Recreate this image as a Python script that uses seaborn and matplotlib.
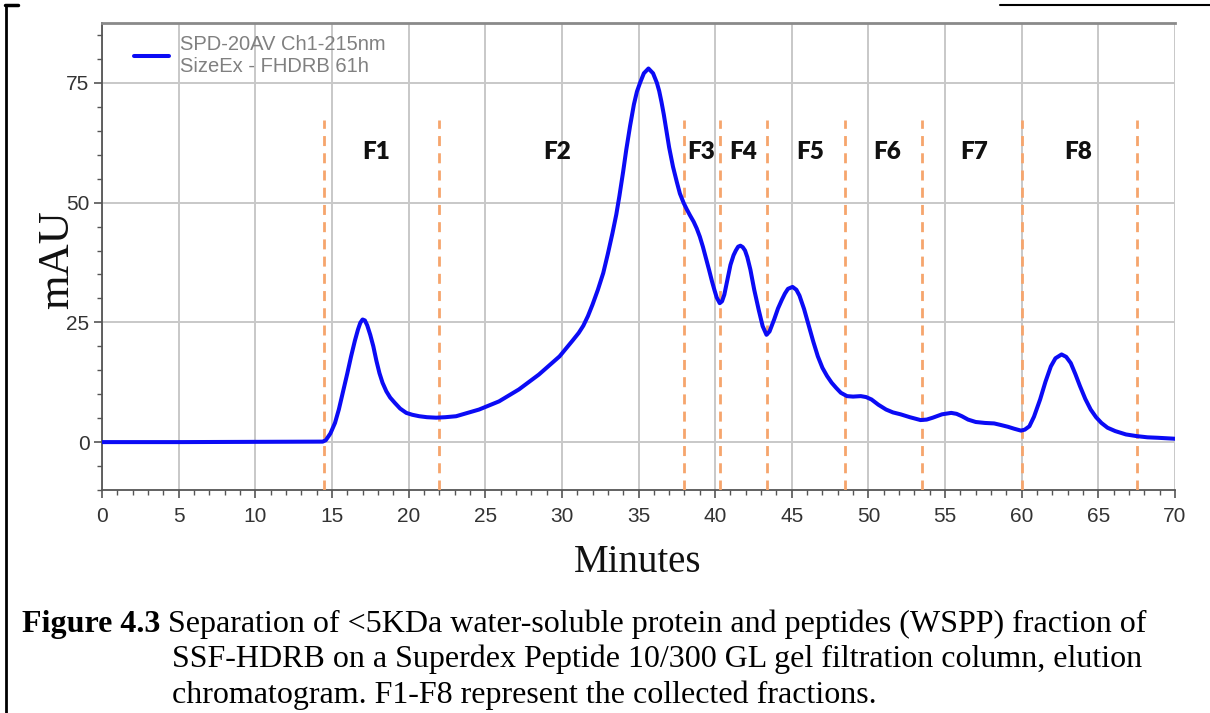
import matplotlib
matplotlib.use("Agg")
import numpy as np
import pandas as pd
import seaborn as sns
import matplotlib.pyplot as plt
from matplotlib.ticker import MultipleLocator
from matplotlib.lines import Line2D

# ---------------- data ----------------
minutes = [0, 5, 10, 11, 14.4, 14.6, 14.9, 15.2, 15.45, 15.7, 16.0, 16.25, 16.5, 16.7,
           16.85, 17.0, 17.15, 17.3, 17.5, 17.7, 17.9, 18.1, 18.3, 18.55, 18.8, 19.1,
           19.45, 19.85, 20.25, 20.7, 21.2, 21.8, 22.4, 23.1, 24.6, 25.9, 27.2, 28.5,
           29.85, 30.7, 31.1, 31.4, 31.7, 32.0, 32.35, 32.7, 33.0, 33.3, 33.55, 33.75,
           34.0, 34.2, 34.45,
           34.7, 34.9, 35.1, 35.35, 35.65, 35.95, 36.2, 36.35, 36.5, 36.65, 36.8, 37.0,
           37.25, 37.5, 37.7, 37.95, 38.15, 38.35, 38.6, 38.8, 39.0, 39.2, 39.4, 39.6,
           39.8, 39.95, 40.1, 40.3, 40.45, 40.6, 40.8, 41.0, 41.2, 41.35, 41.5, 41.65,
           41.8, 41.95, 42.1, 42.3, 42.55, 42.85, 43.1, 43.35, 43.55, 43.85, 44.1,
           44.35, 44.55, 44.75, 45.05, 45.3, 45.5, 45.8, 46.1, 46.4, 46.7, 47.0, 47.3,
           47.6, 47.9, 48.2, 48.6, 49.0, 49.5, 49.85, 50.2, 50.65, 51.15, 51.6, 52.1,
           52.7, 53.4, 53.8, 54.2, 54.8, 55.4, 55.75, 56.1, 56.5, 57.0, 57.6, 58.2,
           58.6, 59.1, 59.5, 59.95, 60.2, 60.5, 60.8, 61.2, 61.55, 61.9, 62.2, 62.6,
           62.9, 63.2, 63.5, 63.8, 64.15, 64.5, 64.85, 65.2, 65.6, 66.1, 66.8, 67.5,
           68.2, 68.9, 70.0]
mau = [0, 0, 0.05, 0.05, 0.1, 0.4, 1.8, 4.0, 6.8, 10.2, 14.3, 17.9, 21.2, 23.5,
       24.9, 25.6, 25.4, 24.4, 22.4, 20.0, 17.0, 14.4, 12.4, 10.6, 9.3, 8.2,
       7.0, 6.1, 5.7, 5.4, 5.2, 5.1, 5.2, 5.4, 6.8, 8.5, 11.0, 14.1,
       17.9, 21.2, 22.8, 24.3, 26.3, 28.7, 31.8, 35.3, 39.3, 43.6, 47.5, 51.3,
       56.5, 61.0, 66.0,
       70.5, 73.2, 75.0, 77.0, 78.0, 77.0, 75.0, 73.3, 71.0, 68.4, 65.5, 61.5,
       57.5, 54.3, 51.9, 49.9, 48.6, 47.4, 46.0, 44.6, 42.9, 40.8, 38.4, 36.0,
       33.5, 31.8, 30.2, 29.0, 29.4, 30.8, 33.9, 37.0, 39.0, 40.0, 40.8, 41.0,
       40.7, 40.0, 38.6, 36.0, 31.8, 27.5, 24.2, 22.4, 23.1, 25.6, 27.9,
       29.7, 31.0, 32.0, 32.4, 31.8, 30.6, 27.8, 24.4, 21.0, 17.9, 15.5, 13.8,
       12.4, 11.3, 10.3, 9.6, 9.5, 9.6, 9.4, 8.9, 7.8, 6.8, 6.2, 5.8,
       5.2, 4.6, 4.7, 5.1, 5.8, 6.1, 5.9, 5.4, 4.7, 4.2, 4.0, 3.9,
       3.6, 3.2, 2.8, 2.4, 2.6, 3.3, 5.3, 8.9, 12.6, 15.8, 17.5, 18.3,
       17.8, 16.5, 14.2, 11.7, 9.0, 6.8, 5.2, 4.0, 3.0, 2.3, 1.6, 1.25,
       1.0, 0.9, 0.7]

fraction_bounds = [14.5, 22.0, 38.0, 40.3, 43.4, 48.5, 53.5, 60.0, 67.5]
fraction_names = ["F1", "F2", "F3", "F4", "F5", "F6", "F7", "F8"]
fraction_label_x = [17.9, 29.7, 39.1, 41.8, 46.2, 51.2, 56.9, 63.7]

legend_label = "SPD-20AV Ch1-215nm\nSizeEx - FHDRB 61h"
x_label = "Minutes"
y_label = "mAU"
caption_bold = "Figure 4.3"
caption_lines = [
    " Separation of <5KDa water-soluble protein and peptides (WSPP) fraction of",
    "SSF-HDRB on a Superdex Peptide 10/300 GL gel filtration column, elution",
    "chromatogram. F1-F8 represent the collected fractions.",
]

# ---------------- style ----------------
sns.set_theme(style="white")
plt.rcParams["font.family"] = ["Liberation Sans Narrow", "Liberation Sans", "DejaVu Sans"]

W, H = 1210, 713
fig = plt.figure(figsize=(W / 100, H / 100), dpi=100)
fig.patch.set_facecolor("white")

def fx(px):
    return px / W

def fy(py):
    return 1 - py / H

ax = fig.add_axes([fx(102), fy(490), fx(1175) - fx(102), fy(23) - fy(490)])
ax.set_facecolor("white")

df = pd.DataFrame({"Minutes": minutes, "mAU": mau})
sns.lineplot(data=df, x="Minutes", y="mAU", ax=ax, color="#0b0bf5",
             linewidth=2.9, estimator=None, sort=False, label=legend_label, zorder=4)
ax.lines[0].set_solid_joinstyle("round")
ax.lines[0].set_solid_capstyle("round")

ax.set_xlim(0, 70)
ax.set_ylim(-10, 87.5)
ax.xaxis.set_major_locator(MultipleLocator(5))
ax.xaxis.set_minor_locator(MultipleLocator(1))
ax.yaxis.set_major_locator(MultipleLocator(25))
ax.yaxis.set_minor_locator(MultipleLocator(5))

ax.set_axisbelow(True)
ax.grid(True, which="major", color="#c8c8c8", linewidth=1.4)
ax.grid(False, which="minor")

ax.tick_params(axis="both", which="major", direction="out", length=6, width=1.2,
               color="#555555", labelsize=15, labelcolor="#333333", pad=3,
               bottom=True, left=True)
ax.tick_params(axis="both", which="minor", direction="out", length=3.5, width=1.0,
               color="#555555", bottom=True, left=True)
ax.tick_params(axis="x", which="major", pad=6)

for side in ["left", "bottom"]:
    ax.spines[side].set_color("#555555")
    ax.spines[side].set_linewidth(1.3)
ax.spines["top"].set_color("#8a8a8a")
ax.spines["top"].set_linewidth(2.0)
ax.spines["right"].set_visible(False)

# fraction boundaries
ax.vlines(fraction_bounds, -10, 67.3, colors="#f6a56c",
          linestyles=(0, (3.6, 2.6)), linewidth=2.0, zorder=3)
for name, xpos in zip(fraction_names, fraction_label_x):
    ax.text(xpos, 60.6, name, ha="center", va="center", fontsize=17.5,
            fontweight="heavy", family=["Lato", "DejaVu Sans"], color="#111111",
            zorder=5)

# axis labels
ax.set_xlabel(x_label, family=["Liberation Serif"], fontsize=28, color="#111111",
              va="center")
ax.xaxis.set_label_coords((638 - 102) / 1073, (490 - 563) / 467)
ax.set_ylabel(y_label, family=["Liberation Serif"], fontsize=32, color="#111111",
              va="center", ha="center")
ax.yaxis.set_label_coords((57 - 102) / 1073, (490 - 260) / 467)

# legend
leg = ax.legend(loc="upper left", bbox_to_anchor=((134 - 102) / 1073, (490 - 35) / 467),
                frameon=False, borderpad=0, borderaxespad=0, handlelength=1.75,
                handletextpad=0.55, prop={"family": ["Liberation Sans Narrow",
                                                      "Liberation Sans"], "size": 14.5})
for t in leg.get_texts():
    t.set_color("#808080")
    t.set_linespacing(1.2)

# caption
fs0 = 20
tb = fig.text(fx(22), fy(632), caption_bold, family=["Liberation Serif"],
              fontweight="bold", fontsize=fs0, va="baseline", ha="left", color="black")
t1 = fig.text(fx(22), fy(632), caption_lines[0], family=["Liberation Serif"],
              fontsize=fs0, va="baseline", ha="left", color="black")
t2 = fig.text(fx(172), fy(667), caption_lines[1], family=["Liberation Serif"],
              fontsize=fs0, va="baseline", ha="left", color="black")
t3 = fig.text(fx(172), fy(703), caption_lines[2], family=["Liberation Serif"],
              fontsize=fs0, va="baseline", ha="left", color="black")
renderer = fig.canvas.get_renderer()
wb = tb.get_window_extent(renderer).width
w1 = t1.get_window_extent(renderer).width
scale = (1148 - 22) / (wb + w1)
for t in (tb, t1, t2, t3):
    t.set_fontsize(fs0 * scale)
wb = tb.get_window_extent(renderer).width
t1.set_x(fx(22 + wb))

# page border fragments
fig.add_artist(Line2D([fx(6), fx(6)], [0, fy(5)], color="black", linewidth=2.0,
                      transform=fig.transFigure))
fig.add_artist(Line2D([fx(5), fx(18)], [fy(5), fy(5)], color="black", linewidth=2.5,
                      transform=fig.transFigure))
fig.add_artist(Line2D([fx(1000), fx(1210)], [fy(5), fy(5)], color="black", linewidth=1.5,
                      transform=fig.transFigure))

fig.savefig("out.png", dpi=100, facecolor="white")
